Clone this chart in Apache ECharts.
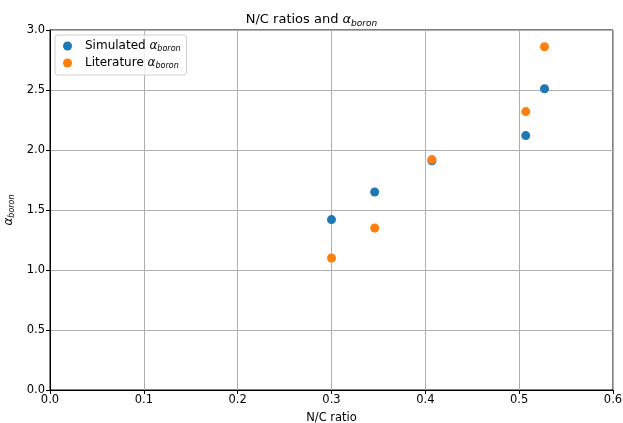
<!DOCTYPE html>
<html>
<head>
<meta charset="utf-8">
<script src="https://cdn.jsdelivr.net/npm/echarts@6/dist/echarts.min.js"></script>
<style>
    html, body { margin: 0; padding: 0; background: #fff; }
    #chart { width: 623px; height: 423px; }
</style>
</head>
<body>
<div id="chart"></div>
<script>
// N/C ratio of each sample
const ncRatio = [0.300, 0.346, 0.407, 0.507, 0.527];
// alpha boron values
const simulatedAlpha = [1.42, 1.65, 1.91, 2.12, 2.51];
const literatureAlpha = [1.10, 1.35, 1.92, 2.32, 2.86];

const font = 'DejaVu Sans';
const subRich = {
    a: { fontFamily: font, fontStyle: 'italic', fontSize: 12, color: '#000' },
    sub: { fontFamily: font, fontStyle: 'italic', fontSize: 8, color: '#000', verticalAlign: 'bottom', padding: [6, 0, 0, 0] }
};

function pairs(xs, ys) {
    let out = [];
    for (let i = 0; i < xs.length; i++) {
        out.push([xs[i], ys[i]]);
    }
    return out;
}

const chart = echarts.init(document.getElementById('chart'));
chart.setOption({
    animation: false,
    backgroundColor: '#fff',
    title: {
        text: 'N/C ratios and {a|α}{sub|boron}',
        left: 'center',
        top: 7,
        textStyle: {
            fontFamily: font,
            fontSize: 13,
            fontWeight: 'normal',
            color: '#000',
            rich: {
                a: { fontFamily: font, fontStyle: 'italic', fontSize: 13, color: '#000' },
                sub: { fontFamily: font, fontStyle: 'italic', fontSize: 9, color: '#000', padding: [7, 0, 0, 0] }
            }
        }
    },
    legend: {
        orient: 'vertical',
        left: 55,
        top: 35,
        padding: [5, 6, 5, 8],
        itemGap: 4,
        itemWidth: 9,
        itemHeight: 9,
        icon: 'circle',
        borderColor: '#d0d0d0',
        borderWidth: 1,
        borderRadius: 3,
        backgroundColor: 'rgba(255,255,255,0.8)',
        data: ['Simulated', 'Literature'],
        formatter: function (name) {
            return name + ' {a|α}{sub|boron}';
        },
        textStyle: {
            fontFamily: font,
            fontSize: 12,
            color: '#000',
            padding: [0, 0, 0, 8],
            rich: {
                a: { fontFamily: font, fontStyle: 'italic', fontSize: 12, color: '#000' },
                sub: { fontFamily: font, fontStyle: 'italic', fontSize: 8, color: '#000', padding: [6, 0, 0, 0] }
            }
        }
    },
    grid: {
        left: 50,
        right: 10,
        top: 30,
        bottom: 33,
        outerBoundsMode: 'none',
        show: true,
        borderColor: '#000',
        borderWidth: 1
    },
    xAxis: {
        type: 'value',
        min: 0,
        max: 0.6,
        interval: 0.1,
        name: 'N/C ratio',
        nameLocation: 'middle',
        nameGap: 22,
        nameTextStyle: { fontFamily: font, fontSize: 11.5, color: '#000' },
        axisLine: { show: true, onZero: false, lineStyle: { color: '#000' } },
        axisTick: { show: true, length: 4, lineStyle: { color: '#000' } },
        axisLabel: {
            fontFamily: font, fontSize: 11.5, color: '#000', margin: 4,
            formatter: function (v) { return v.toFixed(1); }
        },
        splitLine: { show: true, lineStyle: { color: '#b0b0b0', width: 1 } }
    },
    yAxis: {
        type: 'value',
        min: 0,
        max: 3.0,
        interval: 0.5,
        name: '{a|α}{sub|boron}',
        nameLocation: 'middle',
        nameRotate: 90,
        nameGap: 27,
        nameTextStyle: { fontFamily: font, fontSize: 11, color: '#000', rich: subRich },
        axisLine: { show: true, onZero: false, lineStyle: { color: '#000' } },
        axisTick: { show: true, length: 4, lineStyle: { color: '#000' } },
        axisLabel: {
            fontFamily: font, fontSize: 11.5, color: '#000', margin: 5,
            formatter: function (v) { return v.toFixed(1); }
        },
        splitLine: { show: true, lineStyle: { color: '#b0b0b0', width: 1 } }
    },
    series: [
        {
            name: 'Simulated',
            type: 'scatter',
            symbolSize: 9,
            itemStyle: { color: '#1f77b4', opacity: 1 },
            data: pairs(ncRatio, simulatedAlpha)
        },
        {
            name: 'Literature',
            type: 'scatter',
            symbolSize: 9,
            itemStyle: { color: '#ff7f0e', opacity: 1 },
            data: pairs(ncRatio, literatureAlpha)
        }
    ]
});
</script>
</body>
</html>
